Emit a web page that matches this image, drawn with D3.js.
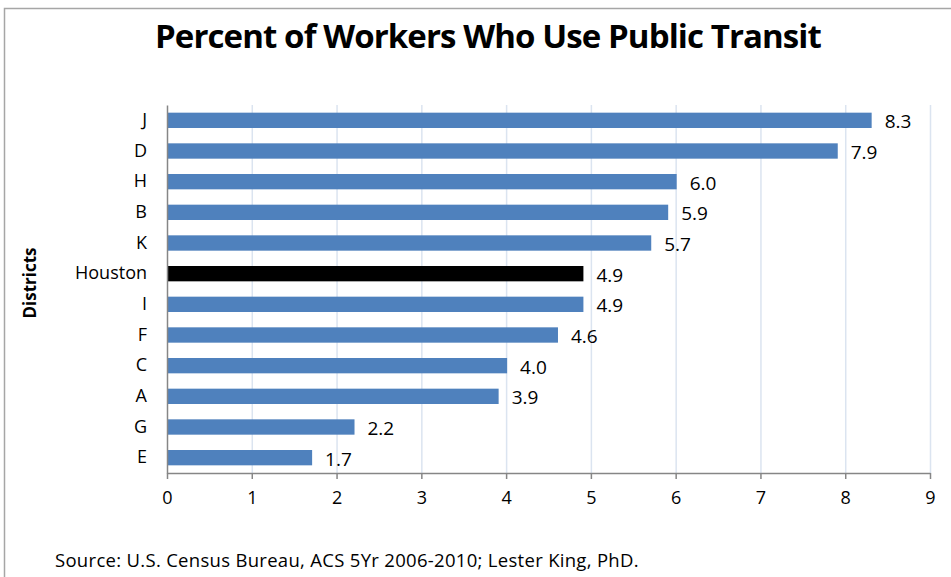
<!DOCTYPE html>
<html lang="en">
  <head>
    <meta charset="UTF-8" />
    <title>Percent of Workers Who Use Public Transit</title>
    <style>
      body { margin: 0; background: #fff; }
      svg { display: block; font-family: "Open Sans", "Liberation Sans", sans-serif; }
    </style>
  </head>
  <body>
    <svg id="chart" width="951" height="577"></svg>
    <script src="https://cdn.jsdelivr.net/npm/d3@7"></script>
    <script>
      // data, top to bottom as drawn
      const districts = ["J", "D", "H", "B", "K", "Houston", "I", "F", "C", "A", "G", "E"];
      const transitPct = [8.3, 7.9, 6.0, 5.9, 5.7, 4.9, 4.9, 4.6, 4.0, 3.9, 2.2, 1.7];
      const xTicks = [0, 1, 2, 3, 4, 5, 6, 7, 8, 9];
      const highlight = "Houston";

      const svg = d3.select("#chart");
      const margin = { top: 105, left: 167, right: 21, bottom: 104 };
      const W = 951, H = 577;

      const x = d3.scaleLinear().domain([0, 9]).range([margin.left, W - margin.right]);
      const y = d3.scaleBand().domain(districts).range([margin.top, H - margin.bottom]).paddingInner(0.5).paddingOuter(0.25);

      // outer frame
      svg.append("path")
        .attr("d", `M4.5,${H} L4.5,8.5 L${W},8.5`)
        .attr("fill", "none")
        .attr("stroke", "#a6a6a6")
        .attr("stroke-width", 1.5);

      // gridlines
      svg.append("g")
        .selectAll("line")
        .data(xTicks.slice(1))
        .join("line")
        .attr("x1", d => x(d) + 0.5)
        .attr("x2", d => x(d) + 0.5)
        .attr("y1", margin.top)
        .attr("y2", H - margin.bottom)
        .attr("stroke", "#dbe4f0")
        .attr("stroke-width", 1.5);

      // bars
      const rows = districts.map((d, i) => ({ name: d, value: transitPct[i] }));
      svg.append("g")
        .selectAll("rect")
        .data(rows)
        .join("rect")
        .attr("x", x(0) + 1)
        .attr("y", d => y(d.name))
        .attr("width", d => x(d.value) - x(0))
        .attr("height", y.bandwidth())
        .attr("fill", d => d.name === highlight ? "#000" : "#4f81bd");

      // value labels
      svg.append("g")
        .selectAll("text")
        .data(rows)
        .join("text")
        .attr("x", d => x(d.value) + 14)
        .attr("y", d => y(d.name) + y.bandwidth() / 2 + 8)
        .attr("font-size", 19)
        .attr("fill", "#000")
        .text(d => d.value.toFixed(1));

      // x axis
      const xAxis = svg.append("g")
        .attr("transform", `translate(0,${H - margin.bottom})`)
        .call(d3.axisBottom(x).tickValues(xTicks).tickFormat(d3.format("d")).tickSizeInner(6).tickSizeOuter(0).tickPadding(12));
      xAxis.select(".domain").attr("stroke", "#868686").attr("stroke-width", 1.5);
      xAxis.selectAll(".tick line").attr("stroke", "#868686").attr("stroke-width", 1.5);
      xAxis.selectAll("text").attr("font-size", 18).attr("fill", "#000").attr("font-family", "Open Sans, sans-serif");

      // y axis
      const yAxis = svg.append("g")
        .attr("transform", `translate(${margin.left},0)`)
        .call(d3.axisLeft(y).tickSize(0).tickPadding(20));
      yAxis.select(".domain").attr("stroke", "#868686").attr("stroke-width", 1.5);
      yAxis.selectAll("text").attr("font-size", 18).attr("fill", "#000").attr("font-family", "Open Sans, sans-serif");

      // title
      svg.append("text")
        .attr("x", 488)
        .attr("y", 48)
        .attr("text-anchor", "middle")
        .attr("font-size", 33)
        .attr("font-weight", "bold")
        .attr("letter-spacing", -0.9)
        .text("Percent of Workers Who Use Public Transit");

      // y axis title
      svg.append("text")
        .attr("transform", `translate(36,283) rotate(-90)`)
        .attr("text-anchor", "middle")
        .attr("font-size", 17)
        .attr("font-weight", "bold")
        .text("Districts");

      // source note
      svg.append("text")
        .attr("x", 55)
        .attr("y", 567)
        .attr("font-size", 18.5)
        .attr("letter-spacing", 0.3)
        .text("Source: U.S. Census Bureau, ACS 5Yr 2006-2010; Lester King, PhD.");
    </script>
  </body>
</html>
